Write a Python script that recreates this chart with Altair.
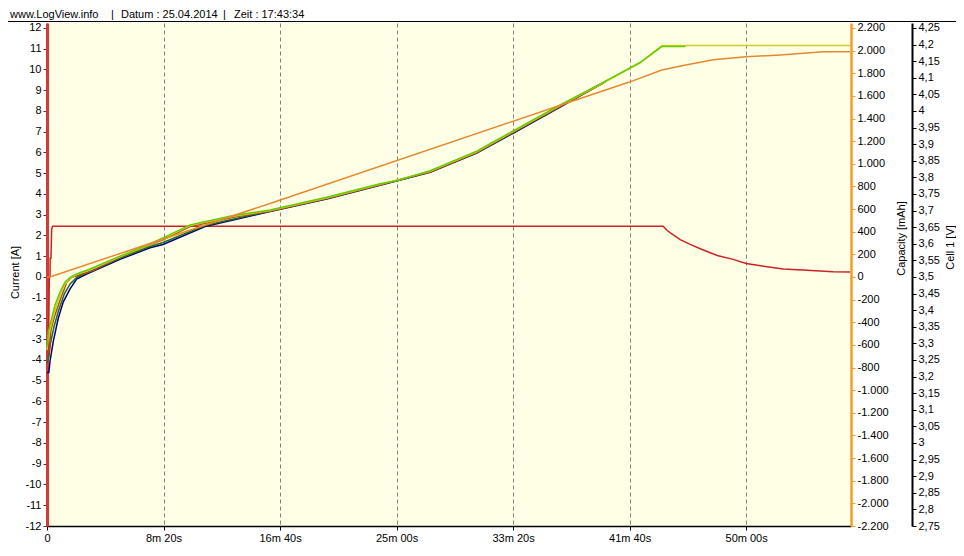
import altair as alt
import pandas as pd

FONT = "Liberation Sans"

# ---------------- axis ticks ----------------
time_ticks = [0, 500, 1000, 1500, 2000, 2500, 3000]          # seconds
current_ticks = list(range(-12, 13))
capacity_ticks = list(range(-2200, 2201, 200))
voltage_ticks = [round(2.75 + 0.05 * i, 2) for i in range(31)]

# ---------------- series ----------------
# Current [A]
t_cur = [0, 6, 10, 13, 13.5, 17, 20, 24, 2644, 2661, 2683, 2717, 2760, 2803,
         2846, 2876, 2944, 3000, 3090, 3159, 3262, 3373, 3446]
i_cur = [-3.85, -3.85, 0.0, 0.0, 0.9, 0.9, 2.3, 2.45, 2.45, 2.24, 2.07, 1.80,
         1.57, 1.36, 1.17, 1.04, 0.85, 0.65, 0.49, 0.38, 0.33, 0.25, 0.24]

# Capacity [mAh]
t_cap = [0, 12, 957, 2288, 2499, 2638, 2746, 2860, 2999, 3146, 3332, 3446]
cap = [0, 0, 650, 1577, 1722, 1829, 1876, 1919, 1945, 1962, 1989, 1991]

# Cell voltages [V]
t_green = [0, 6, 20, 34, 56, 77, 99, 127, 185, 313, 442, 498, 614, 800, 957,
           1200, 1429, 1501, 1644, 1844, 2000, 2202, 2388, 2545, 2638, 2740]
v_green = [3.29, 3.336, 3.375, 3.415, 3.455, 3.484, 3.499, 3.509, 3.524, 3.563,
           3.600, 3.618, 3.657, 3.685, 3.702, 3.740, 3.781, 3.790, 3.820, 3.879,
           3.940, 4.018, 4.087, 4.146, 4.194, 4.194]

t_yellow = [0, 6, 20, 34, 56, 77, 99, 127, 185, 313, 442, 498, 614, 800, 957,
            1200, 1429, 1644, 1844, 2000, 2202, 2388, 2545, 2640, 3450]
v_yellow = [3.28, 3.32, 3.36, 3.40, 3.445, 3.478, 3.496, 3.507, 3.522, 3.561,
            3.598, 3.615, 3.655, 3.683, 3.700, 3.738, 3.779, 3.818, 3.877, 3.938,
            4.016, 4.085, 4.145, 4.197, 4.197]

t_brown = [8, 17, 34, 56, 85, 106, 140, 200, 313, 442, 498, 614, 800, 957,
           1200, 1429, 1644, 1844, 2000, 2202, 2390]
v_brown = [3.27, 3.34, 3.385, 3.43, 3.484, 3.499, 3.507, 3.52, 3.56, 3.597,
           3.612, 3.652, 3.68, 3.698, 3.736, 3.777, 3.816, 3.875, 3.936, 4.014,
           4.085]

t_dgreen = [0, 8, 15, 30, 50, 75, 100, 130, 180, 313, 442, 498, 678, 957, 1200,
            1429, 1644, 1844, 2000, 2202, 2400]
v_dgreen = [3.24, 3.26, 3.30, 3.35, 3.40, 3.45, 3.48, 3.50, 3.515, 3.557, 3.592,
            3.604, 3.655, 3.699, 3.737, 3.778, 3.817, 3.875, 3.935, 4.014, 4.09]

t_navy = [0, 8, 13, 27, 48, 70, 99, 127, 170, 313, 442, 498, 678, 957, 1200,
          1429, 1644, 1844, 2000, 2202, 2400]
v_navy = [3.212, 3.212, 3.247, 3.306, 3.375, 3.425, 3.464, 3.494, 3.509, 3.553,
          3.588, 3.598, 3.652, 3.697, 3.735, 3.776, 3.815, 3.873, 3.933, 4.012,
          4.09]

RED = "#CC2222"
ORANGE = "#E8882A"

X_MAX = 3450
CUR_DOM = [-12, 12.24]
CAP_DOM = [-2200, 2244]
VOLT_DOM = [2.75, 4.265]

x_enc = alt.X(
    "t:Q",
    scale=alt.Scale(domain=[0, X_MAX], nice=False, zero=False),
    axis=alt.Axis(
        values=time_ticks,
        title=None,
        labelExpr="datum.value == 0 ? '0' : floor(datum.value/60) + 'm ' + "
                  "(datum.value % 60 < 10 ? '0' : '') + (datum.value % 60) + 's'",
        grid=True, gridDash=[4, 3], gridColor="#808080", gridWidth=1,
        domainColor="black", domainWidth=1.5,
        tickColor="black", tickSize=4, labelPadding=2,
        labelFlush=False,
    ),
)


def df(t, v):
    return pd.DataFrame({"t": t, "v": v})


current = alt.Chart(df(t_cur, i_cur)).mark_line(color=RED, strokeWidth=1.5).encode(
    x=x_enc,
    y=alt.Y(
        "v:Q",
        scale=alt.Scale(domain=CUR_DOM, nice=False, zero=False),
        axis=alt.Axis(
            orient="left", values=current_ticks, title="Current [A]",
            labelExpr="datum.value < 0 ? '-' + abs(datum.value) : '' + datum.value",
            domainColor="#D03A3A", domainWidth=3, tickColor="#8B1A1A", tickSize=4,
            labelPadding=2, labelOverlap=False, grid=False,
            titleAngle=270, titleX=-32, titleY=249, titleAlign="center",
            titleBaseline="middle",
        ),
    ),
)

cap_chart = alt.Chart(df(t_cap, cap)).mark_line(color=ORANGE, strokeWidth=1.5).encode(
    x=x_enc,
    y=alt.Y(
        "v:Q",
        scale=alt.Scale(domain=CAP_DOM, nice=False, zero=False),
        axis=alt.Axis(
            orient="right", values=capacity_ticks, title="Capacity [mAh]",
            labelExpr="(datum.value < 0 ? '-' : '') + replace(format(abs(datum.value), ','), ',', '.')",
            domainColor="#F39C2C", domainWidth=2.5, tickColor="#F39C2C", tickSize=4,
            labelPadding=2, labelOverlap=False, grid=False,
            titleAngle=270, titleX=50, titleY=215, titleAlign="center",
            titleBaseline="middle",
        ),
    ),
)

y_volt = alt.Y(
    "v:Q",
    scale=alt.Scale(domain=VOLT_DOM, nice=False, zero=False),
    axis=alt.Axis(
        orient="right", offset=61, values=voltage_ticks, title="Cell 1 [V]",
        labelExpr="replace(format(datum.value, '.3~r'), '.', ',')",
        domainColor="black", domainWidth=2, tickColor="black", tickSize=4,
        labelPadding=2, labelOverlap=False, grid=False,
        titleAngle=270, titleX=38, titleY=224, titleAlign="center",
        titleBaseline="middle",
    ),
)


def vline(t, v, color):
    return alt.Chart(df(t, v)).mark_line(color=color, strokeWidth=1.5).encode(x=x_enc, y=y_volt)


voltage = alt.layer(
    vline(t_navy, v_navy, "#000080"),
    vline(t_dgreen, v_dgreen, "#1E6E1E"),
    vline(t_brown, v_brown, "#B8461E"),
    vline(t_yellow, v_yellow, "#D0CC20"),
    vline(t_green, v_green, "#66CC00"),
)

one = pd.DataFrame({"a": [0]})


def header(txt, x):
    return alt.Chart(one).mark_text(
        text=txt, align="left", baseline="alphabetic", font=FONT, fontSize=11, color="black"
    ).encode(x=alt.value(x), y=alt.value(-5))


sep = alt.Chart(one).mark_rule(color="black", strokeWidth=1).encode(
    x=alt.value(-47), x2=alt.value(917), y=alt.value(-1.5)
)

chart = alt.layer(
    current, voltage, cap_chart,
    sep,
    header("www.LogView.info", -37),
    header("|", 64),
    header("Datum : 25.04.2014", 74),
    header("|", 176),
    header("Zeit : 17:43:34", 187),
).resolve_scale(y="independent").properties(
    width=804, height=503,
    padding={"left": 39, "top": 15, "right": 105, "bottom": 16},
    autosize=alt.AutoSizeParams(type="none"),
    background="white",
).configure_view(
    fill="#FFFFE6", stroke=None
).configure_axis(
    labelFont=FONT, labelFontSize=11, labelColor="black",
    titleFont=FONT, titleFontSize=11, titleFontWeight="normal", titleColor="black",
)

chart.save("out.html", embed_options={"renderer": "svg", "actions": False})
